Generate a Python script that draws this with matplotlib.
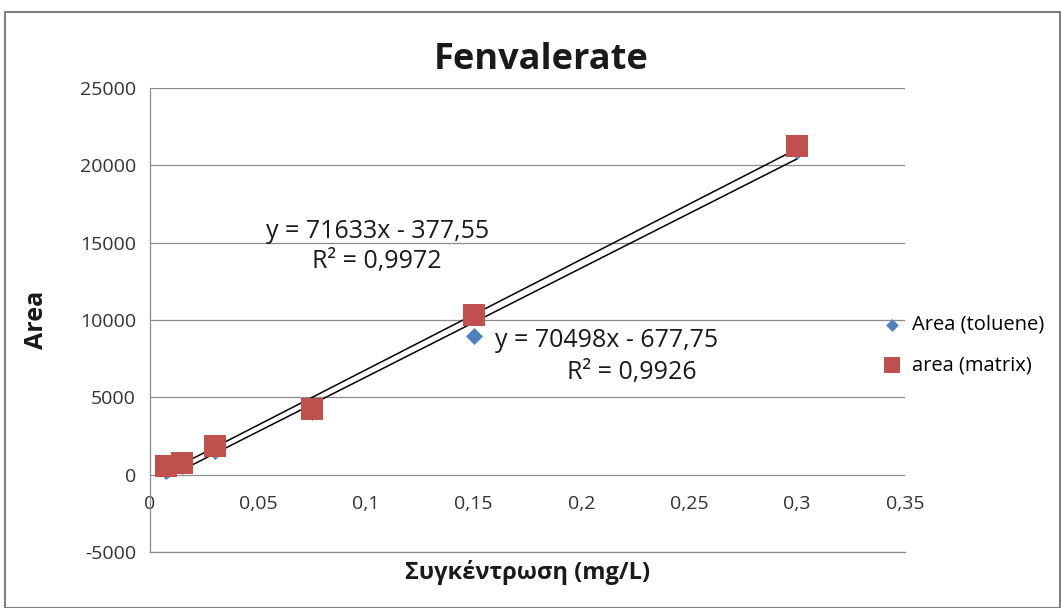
import matplotlib
matplotlib.use("Agg")
import matplotlib.pyplot as plt
import numpy as np
from matplotlib.patches import Rectangle
from matplotlib.ticker import FuncFormatter

plt.rcParams['font.family'] = ['Open Sans', 'DejaVu Sans']
plt.rcParams['axes.unicode_minus'] = False

title = "Fenvalerate"
conc = [0.0075, 0.015, 0.03, 0.075, 0.15, 0.3]
area_toluene = [250, 550, 1500, 4050, 8950, 20950]
area_matrix = [580, 775, 1870, 4260, 10300, 21250]
series_names = ["Area (toluene)", "area (matrix)"]
eq_matrix = ["y = 71633x - 377,55", "R² = 0,9972"]
eq_toluene = ["y = 70498x - 677,75", "R² = 0,9926"]
xticks = [0, 0.05, 0.1, 0.15, 0.2, 0.25, 0.3, 0.35]
yticks = [-5000, 0, 5000, 10000, 15000, 20000, 25000]

blue = "#4F81BD"
red = "#C0504D"
txt = "#1a1a1a"

fig = plt.figure(figsize=(10.61, 6.08), dpi=100)
fig.patch.set_facecolor("white")
fig.patches.append(Rectangle((5/1061, 0), 1 - 5/1061 - 0.001, 1 - 12/608,
                             transform=fig.transFigure, fill=False,
                             edgecolor="#7f7f7f", linewidth=1.5))

ax = fig.add_axes([150/1061, 1 - 552/608, 755/1061, 464/608])
ax.set_xlim(0, 0.35)
ax.set_ylim(-5000, 25000)
ax.set_yticks(yticks)
ax.set_xticks(xticks)
ax.yaxis.grid(True, color="#8c8c8c", linewidth=0.9)
ax.set_axisbelow(True)
for s in ["top", "right"]:
    ax.spines[s].set_visible(False)
for s in ["left", "bottom"]:
    ax.spines[s].set_color("#8c8c8c")
    ax.spines[s].set_linewidth(0.9)

fmt = FuncFormatter(lambda v, p: ("%g" % v).replace(".", ","))
ax.xaxis.set_major_formatter(fmt)
ax.tick_params(axis="y", length=0, labelsize=14, pad=10, colors="#333333")
ax.tick_params(axis="x", length=0, labelsize=14, pad=-41, colors="#333333")

x = np.array(conc)
for yv in (area_toluene, area_matrix):
    k, b = np.polyfit(x, np.array(yv), 1)
    xs = np.array([x.min(), x.max()])
    ax.plot(xs, k * xs + b, color="black", linewidth=1.1, zorder=3)

ax.scatter(conc, area_toluene, marker="D", s=75, color=blue, zorder=4,
           label=series_names[0], linewidths=0)
ax.scatter(conc, area_matrix, marker="s", s=230, color=red, zorder=5,
           label=series_names[1], linewidths=0)

ax.text(0.1053, 15750, eq_matrix[0], fontsize=18, ha="center", va="center", color=txt)
ax.text(0.1053, 13800, eq_matrix[1], fontsize=18, ha="center", va="center", color=txt)
ax.text(0.2115, 8650, eq_toluene[0], fontsize=18, ha="center", va="center", color=txt)
ax.text(0.2235, 6600, eq_toluene[1], fontsize=18, ha="center", va="center", color=txt)

ax.set_title(title, fontsize=26, fontweight="bold", pad=14, color=txt,
             x=(541 - 150) / 755)
ax.set_ylabel("Area", fontsize=18, fontweight="bold", labelpad=22, color=txt)
ax.set_xlabel("Συγκέντρωση (mg/L)", fontsize=17, fontweight="bold", labelpad=6, color=txt)

leg = ax.legend(loc="center left", bbox_to_anchor=(0.945, 0.446), frameon=False,
                fontsize=14.5, handletextpad=0.0, labelspacing=1.0, markerscale=0.75,
                borderaxespad=0)

fig.savefig("out.png", dpi=100, facecolor="white")
